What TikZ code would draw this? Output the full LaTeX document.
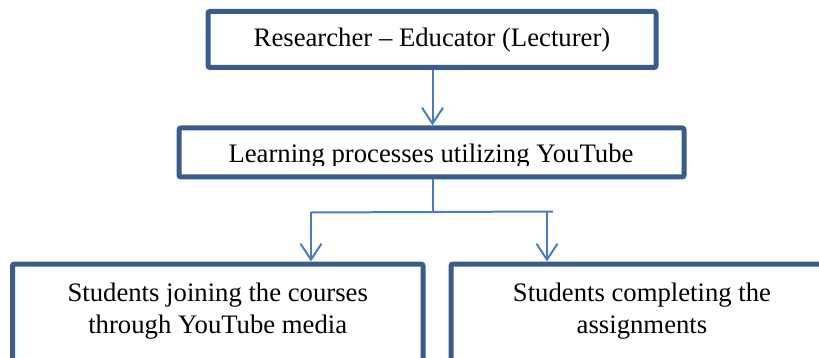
\documentclass[tikz,border=0pt]{standalone}
\usepackage{fontspec}
\setmainfont{Liberation Serif}
\usetikzlibrary{arrows.meta}
\definecolor{boxblue}{RGB}{56,93,138}
\definecolor{arrblue}{RGB}{74,126,187}
\tikzset{
  boxshape/.style={draw=boxblue, line width=5pt, rounded corners=2pt, fill=white, inner sep=0pt},
  lbl/.style={inner sep=0pt, font=\fontsize{26.7}{32}\selectfont, text=black},
  conn/.style={draw=arrblue, line width=2pt},
  arr/.style={conn, -{Straight Barb[length=16pt,width=21pt,line width=2pt]}}
}
\begin{document}
\begin{tikzpicture}[x=1pt,y=-1pt]
\useasboundingbox (0,0) rectangle (819,358);
\clip (0,0) rectangle (819,358);
% boxes
\node[boxshape, minimum width=448pt, minimum height=56pt] (b1) at (432,39.5) {};
\node[boxshape, minimum width=505pt, minimum height=49pt] (b2) at (431.5,152.5) {};
\node[boxshape, minimum width=410.5pt, minimum height=97pt] (b3) at (217.75,312.5) {};
\node[boxshape, minimum width=382pt, minimum height=97pt] (b4) at (642,312.5) {};
% texts
\node[lbl, anchor=base] (t1) at (432,47) {Researcher – Educator (Lecturer)};
\begin{scope}
  \clip (182,131) rectangle (682,165.5);
  \node[lbl, anchor=base] (t2) at (431,163) {Learning processes utilizing YouTube};
\end{scope}
\node[lbl, align=center] (t3) at (217.75,311.5) {Students joining the courses\\through YouTube media};
\node[lbl, align=center] (t4) at (642,311.5) {Students completing the\\assignments};
% connectors
\draw[arr] (b1.south -| 432.5,0) -- (b2.north -| 432.5,0);
\coordinate (jn) at (433,212);
\coordinate (L) at (311,212.5);
\coordinate (R) at (553,211.5);
\coordinate (Rd) at (547,211.6);
\draw[conn] (b2.south -| jn) -- (jn);
\draw[conn] (L) -- (R);
\draw[arr] (L) -- (L |- b3.north);
\draw[arr] (Rd) -- (Rd |- b4.north);
\end{tikzpicture}
\end{document}
